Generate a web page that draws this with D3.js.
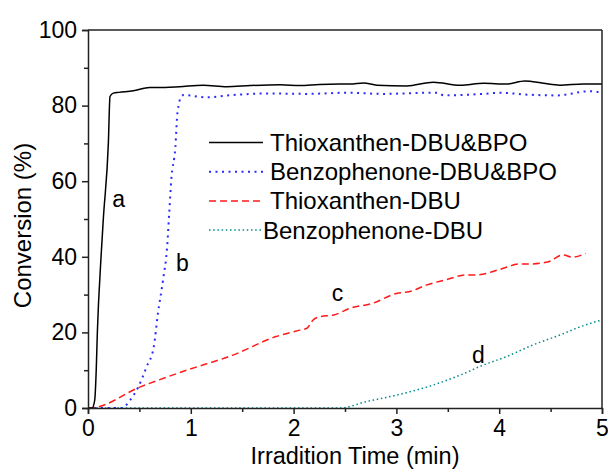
<!DOCTYPE html>
<html>
<head>
<meta charset="utf-8">
<script src="https://cdn.jsdelivr.net/npm/d3@7"></script>
<style>
  body { margin: 0; background: #fff; }
  text { font-family: "Liberation Sans", Arial, sans-serif; fill: #000; }
</style>
</head>
<body>
<svg id="chart" width="608" height="469"></svg>
<script>
// values (time in min, conversion in %)
const timeA = [0, 0.04, 0.065, 0.08, 0.091, 0.127, 0.149, 0.198, 0.214, 0.246, 0.30, 0.44, 0.60, 0.75, 0.89, 1.12, 1.35, 1.58, 1.87, 2.06, 2.25, 2.45, 2.55, 2.68, 2.81, 3.10, 3.36, 3.62, 3.85, 4.07, 4.25, 4.43, 4.59, 4.82, 5.0];
const convA = [0, 0, 2, 10, 20, 40, 50, 70, 82.4, 83.3, 83.5, 83.9, 84.8, 84.8, 85.0, 85.4, 85.0, 85.3, 85.5, 85.3, 85.6, 85.7, 85.7, 86.0, 85.4, 85.2, 86.2, 85.4, 85.9, 85.7, 86.5, 85.9, 85.4, 85.7, 85.7];

const timeB = [0, 0.33, 0.41, 0.49, 0.57, 0.64, 0.68, 0.73, 0.77, 0.79, 0.81, 0.85, 0.87, 0.91, 0.93, 1.15, 1.41, 1.74, 2.13, 2.52, 2.87, 3.33, 3.40, 3.46, 3.85, 4.01, 4.27, 4.56, 4.88, 5.0];
const convB = [0, 0, 2.1, 5.6, 10.9, 16.2, 25, 33.9, 42.7, 51.5, 60.3, 69.1, 78, 82.5, 82.8, 82.2, 82.8, 83.2, 83.1, 83.4, 83.1, 83.4, 83.4, 82.7, 83.1, 83.4, 82.9, 82.7, 83.8, 83.4];

const timeC = [0, 0.02, 0.51, 0.96, 1.41, 1.83, 2.06, 2.13, 2.19, 2.26, 2.39, 2.55, 2.77, 3.0, 3.13, 3.29, 3.49, 3.68, 3.78, 4.01, 4.20, 4.30, 4.48, 4.62, 4.71, 4.84];
const convC = [0, 0, 5.6, 10, 14, 18.9, 20.6, 21.1, 23.3, 24.2, 24.6, 26.4, 27.7, 30.3, 30.8, 32.5, 34, 35.2, 35.2, 36.7, 38.1, 38.1, 38.7, 40.5, 39.9, 40.9];

const timeD = [0, 2.45, 2.71, 3.0, 3.36, 3.62, 3.85, 4.07, 4.33, 4.59, 4.79, 5.0];
const convD = [0, 0, 1.7, 3.4, 6.1, 8.7, 11.4, 13.6, 16.7, 19.3, 21.5, 23.3];

const seriesNames = ['Thioxanthen-DBU&BPO', 'Benzophenone-DBU&BPO', 'Thioxanthen-DBU', 'Benzophenone-DBU'];
const curveLabels = ['a', 'b', 'c', 'd'];
const xTicks = [0, 1, 2, 3, 4, 5];
const yTicks = [0, 20, 40, 60, 80, 100];

const styles = [
  { color: '#000000', dash: null, width: 1.5 },
  { color: '#2a2aff', dash: '2,4.5', width: 2 },
  { color: '#ff1a1a', dash: '7,4', width: 1.5 },
  { color: '#008b8b', dash: '1.5,2.7', width: 1.5 },
];

const margin = { left: 88, top: 30, right: 6, bottom: 61 };
const svg = d3.select('#chart');
const width = 608 - margin.left - margin.right;
const height = 469 - margin.top - margin.bottom;

const x = d3.scaleLinear().domain([0, 5]).range([0, width]);
const y = d3.scaleLinear().domain([0, 100]).range([height, 0]);

const g = svg.append('g').attr('transform', 'translate(' + margin.left + ',' + margin.top + ')');

const series = [
  timeA.map((t, i) => [t, convA[i]]),
  timeB.map((t, i) => [t, convB[i]]),
  timeC.map((t, i) => [t, convC[i]]),
  timeD.map((t, i) => [t, convD[i]]),
];

const line = d3.line()
  .x(d => x(d[0]))
  .y(d => y(d[1]))
  .curve(d3.curveMonotoneX);

// draw from back to front: d, c, b, a
[3, 2, 1, 0].forEach(i => {
  g.append('path')
    .datum(series[i])
    .attr('fill', 'none')
    .attr('stroke', styles[i].color)
    .attr('stroke-width', styles[i].width)
    .attr('stroke-dasharray', styles[i].dash)
    .attr('d', line);
});

// axes with minor ticks
const xAxis = g.append('g')
  .attr('transform', 'translate(0,' + height + ')')
  .call(d3.axisBottom(x).tickValues(d3.range(0, 5.01, 0.5)).tickSize(6).tickFormat(''));
xAxis.selectAll('.tick')
  .filter(d => !xTicks.includes(d))
  .select('line').attr('y2', 4);

const xLabels = g.append('g')
  .attr('transform', 'translate(0,' + height + ')')
  .call(d3.axisBottom(x).tickValues(xTicks).tickSize(0).tickPadding(12).tickFormat(d3.format('d')));
xLabels.select('.domain').remove();

const yAxis = g.append('g')
  .call(d3.axisLeft(y).tickValues(d3.range(0, 100.1, 10)).tickSize(6).tickFormat(''));
yAxis.selectAll('.tick')
  .filter(d => !yTicks.includes(d))
  .select('line').attr('x2', -4);

const yLabels = g.append('g')
  .call(d3.axisLeft(y).tickValues(yTicks).tickSize(0).tickPadding(11).tickFormat(d3.format('d')));
yLabels.select('.domain').remove();

svg.selectAll('.tick text').attr('font-size', 23).attr('font-family', '"Liberation Sans", Arial, sans-serif').attr('fill', '#000');
svg.selectAll('.domain, .tick line').attr('stroke', '#222').attr('stroke-width', 1.5);

// frame top and right
g.append('line').attr('x1', 0).attr('x2', width).attr('y1', 0).attr('y2', 0)
  .attr('stroke', '#222').attr('stroke-width', 1.5);
g.append('line').attr('x1', width).attr('x2', width).attr('y1', 0).attr('y2', height)
  .attr('stroke', '#222').attr('stroke-width', 1.5);

// axis titles
svg.append('text')
  .attr('x', 355)
  .attr('y', 463.5)
  .attr('text-anchor', 'middle')
  .attr('font-size', 23.5)
  .text('Irradition Time (min)');

svg.append('text')
  .attr('transform', 'translate(31,225.5) rotate(-90)')
  .attr('text-anchor', 'middle')
  .attr('font-size', 24)
  .text('Conversion (%)');

// curve letters
const letterPos = [[0.235, 53.2], [0.856, 36.2], [2.37, 28.3], [3.735, 11.9]];
curveLabels.forEach((l, i) => {
  g.append('text')
    .attr('x', x(letterPos[i][0]))
    .attr('y', y(letterPos[i][1]))
    .attr('font-size', 23)
    .text(l);
});

// legend
const legend = g.append('g').attr('class', 'legend');
const legendRows = legend.selectAll('g')
  .data(seriesNames)
  .enter()
  .append('g')
  .attr('transform', (d, i) => 'translate(121,' + (112.5 + i * 29.2) + ')');

legendRows.append('line')
  .attr('x1', 0).attr('x2', 54)
  .attr('stroke', (d, i) => styles[i].color)
  .attr('stroke-width', (d, i) => styles[i].width)
  .attr('stroke-dasharray', (d, i) => styles[i].dash);

legendRows.append('text')
  .attr('x', (d, i) => i === 3 ? 54 : 61)
  .attr('dy', '0.35em')
  .attr('font-size', 24)
  .text(d => d);
</script>
</body>
</html>
